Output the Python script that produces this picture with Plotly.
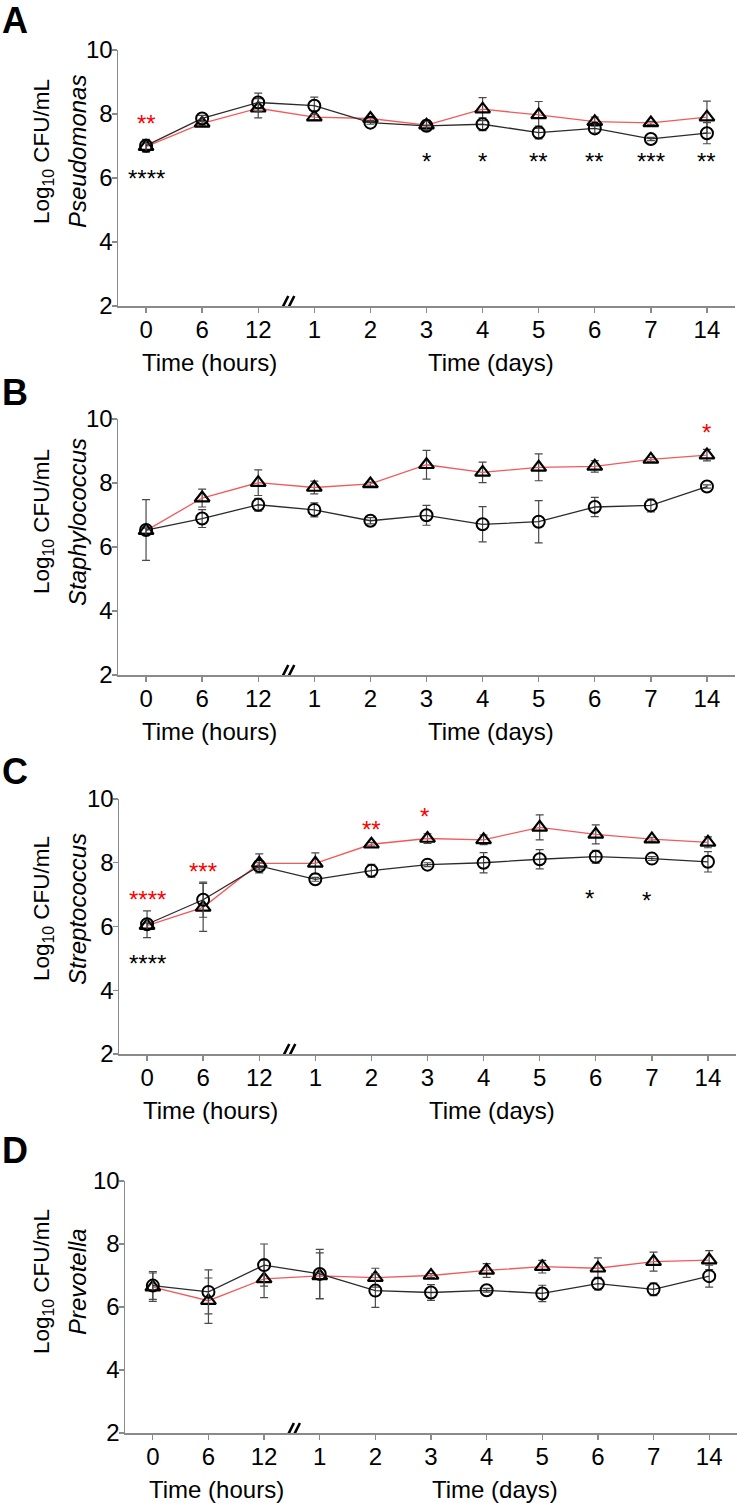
import plotly.graph_objects as go

# ---------------- data ----------------
tick_labels = ["0", "6", "12", "1", "2", "3", "4", "5", "6", "7", "14"]
cat_idx = list(range(len(tick_labels)))
genus = ["Pseudomonas", "Staphylococcus", "Streptococcus", "Prevotella"]
panel_letters = ["A", "B", "C", "D"]

# circles (black line)
circ_A = [7.01, 7.86, 8.36, 8.26, 7.73, 7.63, 7.68, 7.42, 7.55, 7.22, 7.40]
circ_A_err = [0.20, 0.10, 0.29, 0.27, 0.05, 0.15, 0.20, 0.20, 0.15, 0.05, 0.33]
circ_B = [6.53, 6.89, 7.32, 7.16, 6.82, 6.99, 6.71, 6.79, 7.25, 7.30, 7.89]
circ_B_err = [0.95, 0.28, 0.20, 0.22, 0.10, 0.31, 0.55, 0.66, 0.30, 0.20, 0.05]
circ_C = [6.07, 6.84, 7.90, 7.48, 7.75, 7.94, 8.00, 8.11, 8.19, 8.13, 8.03]
circ_C_err = [0.42, 0.55, 0.10, 0.06, 0.20, 0.06, 0.32, 0.30, 0.20, 0.06, 0.32]
circ_D = [6.68, 6.48, 7.33, 7.05, 6.52, 6.46, 6.53, 6.43, 6.74, 6.56, 6.98]
circ_D_err = [0.44, 0.70, 0.67, 0.78, 0.53, 0.25, 0.06, 0.26, 0.20, 0.20, 0.35]

# triangles (red line)
tri_A = [6.98, 7.71, 8.18, 7.90, 7.86, 7.65, 8.15, 7.97, 7.76, 7.72, 7.90]
tri_A_err = [0.15, 0.08, 0.30, 0.08, 0.06, 0.15, 0.36, 0.42, 0.14, 0.05, 0.50]
tri_B = [6.51, 7.53, 8.01, 7.86, 7.97, 8.57, 8.33, 8.49, 8.52, 8.74, 8.87]
tri_B_err = [0.08, 0.28, 0.40, 0.20, 0.06, 0.45, 0.32, 0.42, 0.18, 0.06, 0.18]
tri_C = [6.03, 6.60, 7.98, 7.98, 8.58, 8.76, 8.72, 9.11, 8.89, 8.74, 8.64]
tri_C_err = [0.08, 0.75, 0.30, 0.33, 0.06, 0.15, 0.15, 0.39, 0.30, 0.06, 0.17]
tri_D = [6.63, 6.20, 6.89, 6.99, 6.93, 7.00, 7.16, 7.28, 7.23, 7.44, 7.49]
tri_D_err = [0.45, 0.72, 0.59, 0.73, 0.30, 0.06, 0.22, 0.20, 0.33, 0.30, 0.30]

circles = [circ_A, circ_B, circ_C, circ_D]
circles_err = [circ_A_err, circ_B_err, circ_C_err, circ_D_err]
triangles = [tri_A, tri_B, tri_C, tri_D]
triangles_err = [tri_A_err, tri_B_err, tri_C_err, tri_D_err]

# significance marks: (panel, category index, y value, text, colour)
sig_panel = [0, 0, 0, 0, 0, 0, 0, 0, 1, 2, 2, 2, 2, 2, 2, 2]
sig_x = [0, 0, 5, 6, 7, 8, 9, 10, 10, 0, 0, 1, 4, 5, 8, 9]
sig_y = [7.83, 6.12, 6.65, 6.65, 6.65, 6.65, 6.65, 6.65, 9.71,
         6.96, 4.96, 7.85, 9.16, 9.57, 7.00, 6.94]
sig_text = ["**", "****", "*", "*", "**", "**", "***", "**", "*",
            "****", "****", "***", "**", "*", "*", "*"]
sig_red = [True, False, False, False, False, False, False, False, True,
           True, False, True, True, True, False, False]
sig_dx = [0, 0, 0, 0, 0, 0, 0, 0, 0, 0, 0, 0, 0, -3, -6, -5]

# ---------------- layout geometry (pixels) ----------------
W, H = 738, 1503
# left, right, top, bottom of each plot area
boxes = [(118, 735, 50, 306), (118, 735, 419, 675),
         (119, 736, 799, 1054), (125, 737, 1181, 1433)]
title_cy = [152, 522, 909, 1282]
letter_cy = [20, 392, 771, 1150]

FONT = "Liberation Sans, Arial, Helvetica, sans-serif"
RED_LINE = "#f25a5a"
BLACK_LINE = "#2b2b2b"
AXIS_COL = "#8a8a8a"
ERR_COL = "#4a4a4a"

fig = go.Figure()
layout = dict(
    template="none",
    width=W, height=H,
    margin=dict(l=0, r=0, t=0, b=0, pad=0, autoexpand=False),
    paper_bgcolor="white", plot_bgcolor="white",
    showlegend=False,
    font=dict(family=FONT, size=24, color="black"),
)
annotations = []
shapes = []

for p in range(4):
    n = "" if p == 0 else str(p + 1)
    xa, ya = "x" + n, "y" + n
    l, r, t, b = boxes[p]
    # triangles (red connecting line)
    fig.add_trace(go.Scatter(
        x=cat_idx, y=triangles[p], xaxis=xa, yaxis=ya,
        mode="lines+markers", name="triangle group",
        line=dict(color=RED_LINE, width=1.3),
        marker=dict(symbol="triangle-up-open", size=13, color="black",
                    line=dict(width=2.2, color="black")),
        error_y=dict(type="data", array=triangles_err[p], visible=True,
                     color=ERR_COL, thickness=1.2, width=4),
        cliponaxis=False,
    ))
    # circles (black connecting line)
    fig.add_trace(go.Scatter(
        x=cat_idx, y=circles[p], xaxis=xa, yaxis=ya,
        mode="lines+markers", name="circle group",
        line=dict(color=BLACK_LINE, width=1.3),
        marker=dict(symbol="circle-open", size=12, color="black",
                    line=dict(width=2.0, color="black")),
        error_y=dict(type="data", array=circles_err[p], visible=True,
                     color=ERR_COL, thickness=1.2, width=4),
        cliponaxis=False,
    ))
    ax_common = dict(showgrid=False, zeroline=False, showline=True,
                     automargin=False,
                     linecolor=AXIS_COL, linewidth=1.5, ticks="outside",
                     tickcolor=AXIS_COL, tickwidth=1.3, ticklen=5,
                     tickfont=dict(family=FONT, size=24, color="black"))
    layout["xaxis" + n] = dict(
        ax_common, domain=[l / W, r / W], anchor=ya,
        range=[-0.5, 10.5], tickmode="array", tickvals=cat_idx,
        ticktext=tick_labels, fixedrange=True, ticklabelstandoff=-3)
    layout["yaxis" + n] = dict(
        ax_common, domain=[1 - b / H, 1 - t / H], anchor=xa,
        range=[2, 10], tickmode="array", tickvals=[2, 4, 6, 8, 10],
        fixedrange=True, ticklabelstandoff=-6)

    # y titles
    annotations.append(dict(
        text="Log<sub>10</sub> CFU/mL", xref="paper", yref="paper",
        x=43 / W, y=1 - title_cy[p] / H, xanchor="center", yanchor="middle",
        textangle=-90, showarrow=False, font=dict(size=22.5)))
    annotations.append(dict(
        text="<i>" + genus[p] + "</i>", xref="paper", yref="paper",
        x=77 / W, y=1 - title_cy[p] / H, xanchor="center", yanchor="middle",
        textangle=-90, showarrow=False, font=dict(size=24)))
    # x titles
    annotations.append(dict(
        text="Time (hours)", xref=xa, yref="paper", x=1.14,
        y=1 - (b + 56) / H, xanchor="center", yanchor="middle",
        showarrow=False, font=dict(size=24)))
    annotations.append(dict(
        text="Time (days)", xref=xa, yref="paper", x=6.15,
        y=1 - (b + 56) / H, xanchor="center", yanchor="middle",
        showarrow=False, font=dict(size=24)))
    # axis break "//" drawn as two slanted strokes anchored at the axis
    for off in (-3, 3):
        shapes.append(dict(
            type="line", xref=xa, yref=ya,
            xsizemode="pixel", ysizemode="pixel", xanchor=2.5, yanchor=2,
            x0=off - 5, x1=off + 5, y0=-10, y1=10,
            line=dict(color="black", width=2.6)))
    # panel letters
    annotations.append(dict(
        text="<b>" + panel_letters[p] + "</b>", xref="paper", yref="paper",
        x=0 / W, y=1 - letter_cy[p] / H, xanchor="left", yanchor="middle",
        showarrow=False, font=dict(size=36, color="black")))

for i in range(len(sig_x)):
    p = sig_panel[i]
    n = "" if p == 0 else str(p + 1)
    annotations.append(dict(
        text=sig_text[i], xref="x" + n, yref="y" + n,
        x=sig_x[i], y=sig_y[i], xshift=sig_dx[i], yshift=-4,
        xanchor="center", yanchor="middle", showarrow=False,
        font=dict(size=24, color="#ff0000" if sig_red[i] else "black")))

layout["annotations"] = annotations
layout["shapes"] = shapes
fig.update_layout(**layout)
fig.write_html(
    "out.html",
    config={"displayModeBar": False, "staticPlot": True},
    post_script="document.body.style.margin='0';"
                "document.body.style.padding='0';"
                "document.documentElement.style.overflow='hidden';",
)
